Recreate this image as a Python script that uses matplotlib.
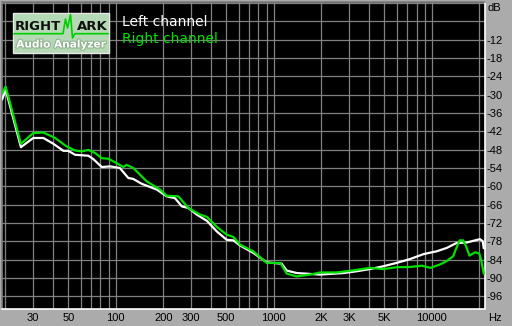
import matplotlib
matplotlib.use("Agg")
import matplotlib.pyplot as plt
import matplotlib.patheffects as pe
from matplotlib.patches import Rectangle
from matplotlib.lines import Line2D

# ---- data ----
left_freq = [19.1, 20.1, 25.1, 30, 34.8, 40.3, 46.6, 50, 55.3, 67, 72, 81.5, 92, 106,
             120, 129, 146, 182, 210, 237, 262, 288, 326, 377, 436, 503, 555, 612,
             742, 903, 1100, 1120, 1208, 1397, 1963, 2760, 3360, 4050, 4915, 5970,
             7300, 8860, 10700, 12400, 14300, 16650, 18800, 20150, 21000, 21300]
left_db = [-31.5, -28.4, -47.2, -44.2, -44.2, -46.1, -48.4, -48.4, -49.7, -50.0,
           -51.1, -53.7, -53.5, -54.0, -57.3, -57.6, -59.2, -61.1, -63.3, -63.9,
           -66.6, -67.1, -69.3, -71.3, -74.8, -77.5, -77.7, -79.4, -81.8, -84.9,
           -85.3, -85.3, -87.6, -88.4, -88.9, -88.4, -87.8, -87.1, -86.2, -85.1,
           -83.8, -82.2, -81.3, -80.2, -78.6, -78.4, -77.7, -77.3, -78.0, -80.2]

right_freq = [19.1, 20.1, 25.1, 30, 34.8, 41.3, 49, 55.3, 61, 67, 74, 81.5, 90, 101,
              111.7, 117, 129, 157, 191, 210, 249, 288, 342, 377, 436, 503, 555, 612,
              742, 903, 1100, 1208, 1397, 1700, 1963, 2500, 3200, 4050, 4915, 5970,
              7300, 8650, 9800, 11250, 12400, 13650, 14300, 15000, 15800, 16480,
              17300, 18800, 19950, 20500, 21300]
right_db = [-29.5, -27.4, -46.1, -42.6, -42.4, -44.2, -47.0, -48.3, -48.6, -48.1,
            -49.1, -50.8, -51.0, -52.4, -53.7, -53.0, -54.0, -58.4, -61.1, -63.1,
            -63.3, -67.1, -69.3, -70.0, -73.3, -75.8, -76.6, -79.1, -81.3, -85.1,
            -85.1, -88.6, -89.5, -88.9, -88.2, -88.2, -87.5, -86.7, -87.1, -86.5,
            -86.4, -86.0, -86.7, -85.6, -84.5, -82.9, -80.2, -77.7, -77.7, -79.7,
            -82.7, -81.6, -82.0, -84.0, -88.5]

x_ticks = [30, 50, 100, 200, 300, 500, 1000, 2000, 3000, 5000, 10000]
x_tick_labels = ["30", "50", "100", "200", "300", "500", "1000", "2K", "3K", "5K", "10000"]
x_grid = [20, 30, 40, 50, 60, 70, 80, 90, 100, 200, 300, 400, 500, 600, 700, 800, 900,
          1000, 2000, 3000, 4000, 5000, 6000, 7000, 8000, 9000, 10000, 20000]
y_ticks = [-12, -18, -24, -30, -36, -42, -48, -54, -60, -66, -72, -78, -84, -90, -96]
y_grid = list(range(-96, 1, 6))

W, H = 512, 326
bg = "#ABABAB"
fig = plt.figure(figsize=(W / 100, H / 100), dpi=100, facecolor=bg)
ax = fig.add_axes([2 / W, (H - 308.5) / H, 483 / W, 306.5 / H])
ax.set_facecolor("black")
ax.set_xscale("log")
ax.set_xlim(19.05, 21700)
ax.set_ylim(-100, 0.3)

for f in x_grid:
    ax.axvline(f, color="#808080", lw=0.9, zorder=1)
for d in y_grid:
    ax.axhline(d, color="#808080", lw=0.9, zorder=1)

ax.plot(left_freq, left_db, color="white", lw=1.6, zorder=3)
ax.plot(right_freq, right_db, color="#00E000", lw=1.6, zorder=4)

ax.xaxis.set_minor_locator(matplotlib.ticker.NullLocator())
ax.set_xticks(x_ticks)
ax.set_xticklabels(x_tick_labels)
ax.set_yticks(y_ticks)
ax.set_yticklabels([str(v) for v in y_ticks])
ax.yaxis.tick_right()
ax.tick_params(axis="both", length=0, labelsize=8, colors="black")
ax.tick_params(axis="x", pad=3)
ax.tick_params(axis="y", pad=1)
for lab in ax.get_xticklabels() + ax.get_yticklabels():
    lab.set_fontfamily("Liberation Sans")

ax.spines["bottom"].set_color("white")
ax.spines["right"].set_color("white")
ax.spines["top"].set_color("#808080")
ax.spines["left"].set_color("#808080")
for s in ax.spines.values():
    s.set_linewidth(1.2)

fig.text(488 / W, 1 - 8 / H, "dB", fontsize=8, family="Liberation Sans",
         va="center", ha="left")
fig.text(488 / W, 1 - 318 / H, "Hz", fontsize=8, family="Liberation Sans",
         va="center", ha="left")

# legend texts
ax.text(122 / W, 1 - 22 / H, "Left channel", transform=fig.transFigure, color="white",
        fontsize=10, family="DejaVu Sans", va="center", ha="left", zorder=6)
ax.text(122 / W, 1 - 38.5 / H, "Right channel", transform=fig.transFigure,
        color="#00E000", fontsize=10, family="DejaVu Sans", va="center", ha="left",
        zorder=6)

# logo overlay
ov = fig.add_axes([0, 0, 1, 1], facecolor="none")
ov.set_xlim(0, W)
ov.set_ylim(H, 0)
ov.axis("off")
ov.add_patch(Rectangle((12.5, 12.5), 96.5, 40, facecolor="#B4D9B4",
                       edgecolor="#E8E8E8", lw=1.0))
ov.text(15, 26.5, "RIGHT", fontsize=9.5, fontweight="bold", family="DejaVu Sans",
        color="#101010", va="center", ha="left")
ov.text(107.5, 26.5, "ARK", fontsize=9.5, fontweight="bold", family="DejaVu Sans",
        color="#101010", va="center", ha="right")
ov.add_line(Line2D([14, 63, 65.5, 67.5, 70.5, 72.5, 75, 108],
                   [33.7, 33.7, 19, 28, 14.5, 38, 33.7, 33.7],
                   color="#00D000", lw=1.2))
ov.text(61, 44.5, "Audio Analyzer", fontsize=7.6, fontweight="bold",
        family="DejaVu Sans", color="white", va="center", ha="center",
        path_effects=[pe.withStroke(linewidth=1.5, foreground="#8FAF8F")])

fig.savefig("out.png", dpi=100, facecolor=bg)
